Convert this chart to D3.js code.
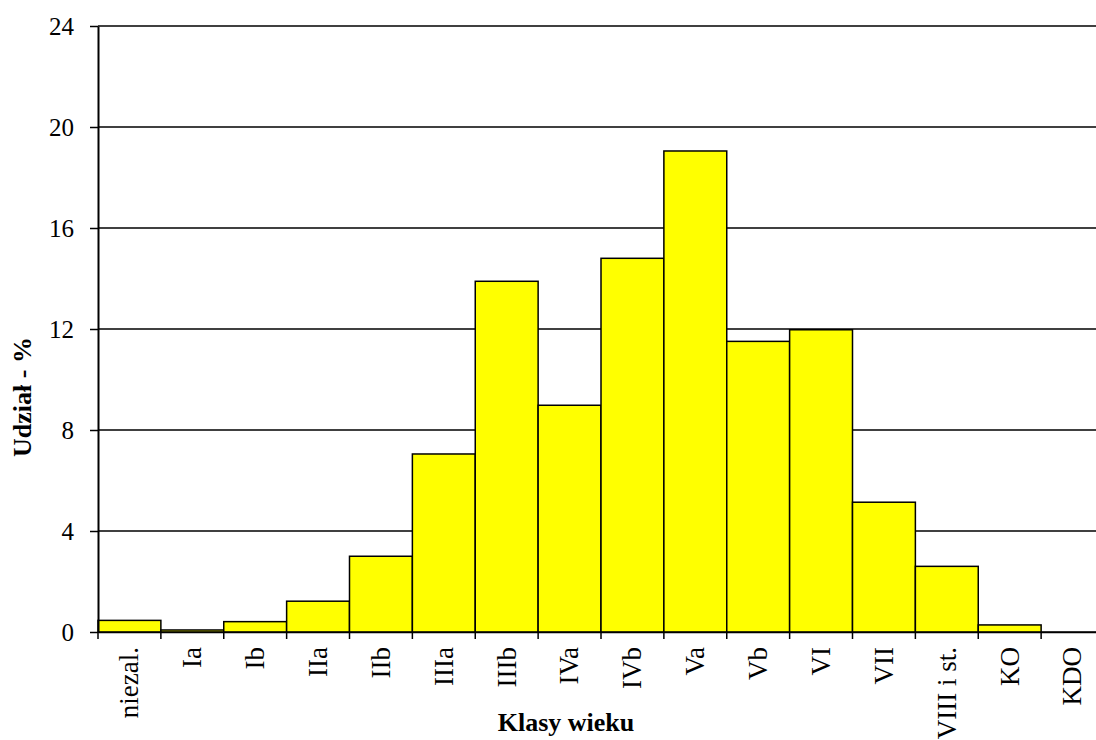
<!DOCTYPE html>
<html>
<head>
<meta charset="utf-8">
<script src="https://cdn.jsdelivr.net/npm/d3@7"></script>
<style>
  html, body { margin: 0; padding: 0; background: #fff; }
  svg { display: block; font-family: "Liberation Serif", "Times New Roman", serif; }
</style>
</head>
<body>
<svg id="chart" width="1096" height="740"></svg>
<script>
// Age classes and their share (%)
const categories = ["niezal.", "Ia", "Ib", "IIa", "IIb", "IIIa", "IIIb", "IVa", "IVb", "Va", "Vb", "VI", "VII", "VIII i st.", "KO", "KDO"];
const shares = [0.46, 0.08, 0.41, 1.22, 3.0, 7.05, 13.89, 8.98, 14.8, 19.05, 11.51, 11.97, 5.14, 2.6, 0.28, 0];
const yTicks = [0, 4, 8, 12, 16, 20, 24];

const svg = d3.select("#chart");
const plotLeft = 98, plotRight = 1104, plotTop = 26, plotBottom = 632;

const x = d3.scaleBand().domain(categories).range([plotLeft, plotRight]).padding(0);
const y = d3.scaleLinear().domain([0, 24]).range([plotBottom, plotTop]);

// horizontal gridlines
svg.append("g")
  .selectAll("line")
  .data(yTicks)
  .join("line")
  .attr("x1", plotLeft).attr("x2", plotRight)
  .attr("y1", d => y(d)).attr("y2", d => y(d))
  .attr("stroke", "#000").attr("stroke-width", 1.5);

// bars
svg.append("g")
  .selectAll("rect")
  .data(categories.map((c, i) => ({ c, v: shares[i] })))
  .join("rect")
  .attr("x", d => x(d.c))
  .attr("width", x.bandwidth())
  .attr("y", d => y(d.v))
  .attr("height", d => y(0) - y(d.v))
  .attr("fill", "#ffff00")
  .attr("stroke", d => d.v > 0 ? "#000" : "none")
  .attr("stroke-width", 1.5);

// y axis
const yAxis = svg.append("g")
  .attr("transform", `translate(${plotLeft},0)`)
  .call(d3.axisLeft(y).tickValues(yTicks).tickSizeInner(8).tickSizeOuter(0).tickPadding(16));
yAxis.select(".domain").attr("stroke", "#000").attr("stroke-width", 2);
yAxis.selectAll(".tick line").attr("stroke", "#000").attr("stroke-width", 1.5);
yAxis.selectAll(".tick text")
  .attr("font-family", "Liberation Serif")
  .attr("font-size", 25)
  .attr("fill", "#000");

// x axis
const xAxis = svg.append("g")
  .attr("transform", `translate(0,${plotBottom})`)
  .call(d3.axisBottom(x).tickSize(0).tickPadding(0));
xAxis.select(".domain").attr("stroke", "#000").attr("stroke-width", 1.6);
xAxis.selectAll(".tick text")
  .attr("font-family", "Liberation Serif")
  .attr("font-size", 27)
  .attr("fill", "#000")
  .attr("text-anchor", "end")
  .attr("transform", "translate(0,15) rotate(-90)")
  .attr("x", 0)
  .attr("y", 0)
  .attr("dy", "0.33em");

// category boundary ticks
svg.append("g")
  .selectAll("line")
  .data(categories.map(c => x(c)).concat([plotRight]))
  .join("line")
  .attr("x1", d => d).attr("x2", d => d)
  .attr("y1", plotBottom).attr("y2", plotBottom + 7)
  .attr("stroke", "#000").attr("stroke-width", 1.5);

// axis titles
svg.append("text")
  .attr("x", 566).attr("y", 731)
  .attr("text-anchor", "middle")
  .attr("font-size", 26).attr("font-weight", "bold")
  .text("Klasy wieku");

svg.append("text")
  .attr("transform", "translate(31,397) rotate(-90)")
  .attr("text-anchor", "middle")
  .attr("font-size", 26).attr("font-weight", "bold")
  .text("Udział - %");
</script>
</body>
</html>
